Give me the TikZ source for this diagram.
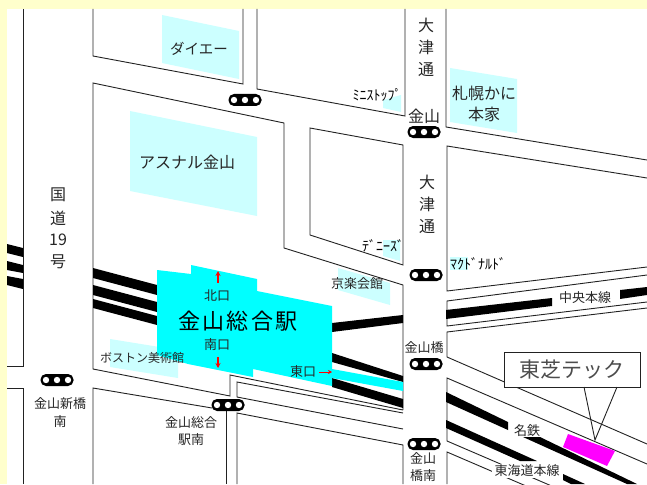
\documentclass[tikz,border=0pt]{standalone}
\usepackage{fontspec}
\setmainfont{Noto Sans CJK JP}
\definecolor{bgy}{HTML}{FFFFCC}
\definecolor{lc}{HTML}{CCFFFF}
\definecolor{lnk}{HTML}{222222}
\definecolor{stn}{HTML}{00FFFF}
\definecolor{bld}{HTML}{FF00FF}
\definecolor{arw}{HTML}{FF0000}
\usetikzlibrary{arrows.meta}
\tikzset{
  road/.style={draw=lnk,line width=0.9pt,line join=miter},
  shop/.style={fill=lc,draw=none},
  rail/.style={fill=black,draw=none},
  lab/.style={inner sep=0pt,font=\fontsize{13}{13}\selectfont,text=black!85},
  labbig/.style={inner sep=0pt,font=\fontsize{16}{16}\selectfont,text=black!85},
  labhalf/.style={inner sep=0pt,font=\fontsize{14}{14}\selectfont,text=black},
  pill/.style={fill=black,draw=none,rounded corners=5.5pt,minimum width=33pt,minimum height=12pt,inner sep=0pt},
  redarrow/.style={draw=arw,line width=1.3pt,-{Stealth[length=5pt,width=5pt]}}
}
\newcommand{\tlight}[3]{%
  \node[pill] (#1) at (#2,#3) {};
  \foreach \dx in {-11,0,11}{\fill[white] ([xshift=\dx pt]#1.center) circle (3.2pt);}
}
\begin{document}
\begin{tikzpicture}[x=1pt,y=-1pt]
\useasboundingbox (0,0) rectangle (647,484);
\fill[bgy] (0,0) rectangle (647,484);
\fill[white] (7,9) rectangle (647,484);
\begin{scope}
\clip (7,9) rectangle (647,484);
% shops
\fill[shop] (162,15) -- (239,31) -- (239,79) -- (162,63) -- cycle;
\fill[shop] (130,111) -- (257,137) -- (257,216) -- (130,191) -- cycle;
\fill[shop] (383,100) -- (401,95) -- (401,112) -- (383,108) -- cycle;
\fill[shop] (450,68) -- (517,79) -- (517,133) -- (450,122) -- cycle;
\fill[shop] (383,240) -- (400,240) -- (400,261) -- (383,256) -- cycle;
\fill[shop] (338,268) -- (390,283) -- (390,305) -- (338,290) -- cycle;
\fill[shop] (450,257) -- (468,257) -- (468,270) -- (450,270) -- cycle;
\fill[shop] (110,339) -- (178,350) -- (178,378) -- (110,367) -- cycle;
% roads
\draw[road] (23,9) -- (23,366) -- (7,366);
\draw[road] (7,388) -- (23,388) -- (23,484);
\draw[road] (93,9) -- (93,56) -- (243,84) -- (243,9);
\draw[road] (257,9) -- (257,89) -- (405,116) -- (405,9);
\draw[road] (403,410) -- (403,285) -- (284,248) -- (284,123) -- (93,83) -- (93,369) -- (230,396) -- (230,375) -- (403,410);
\draw[road] (403,413) -- (237,382) -- (237,397) -- (403,429);
\draw[road] (403,484) -- (403,445) -- (237,413) -- (237,484);
\draw[road] (226,411) -- (226,484);
\draw[road] (93,484) -- (93,388) -- (212,408);
\draw[road] (310,128) -- (403,145) -- (403,265) -- (310,235) -- cycle;
\draw[road] (446,9) -- (446,127) -- (647,160);
\draw[road] (647,178) -- (447,146) -- (447,291) -- (647,267);
\draw[road] (647,275) -- (447,301) -- (447,326) -- (647,302);
\draw[road] (647,308) -- (447,332) -- (447,357) -- (647,444);
\draw[road] (647,464) -- (447,378) -- (447,441) -- (647,527);
\draw[road] (447,484) -- (447,452) -- (647,538);
% rails
\fill[rail] (7,244) -- (23,248) -- (23,257) -- (7,253) -- cycle;
\fill[rail] (7,261) -- (23,265) -- (23,273) -- (7,270) -- cycle;
\fill[rail] (7,276) -- (23,279) -- (23,289) -- (7,285) -- cycle;
\fill[rail] (93,268) -- (157,285) -- (157,295) -- (93,278) -- cycle;
\fill[rail] (93,285) -- (157,302) -- (157,312) -- (93,295) -- cycle;
\fill[rail] (93,299) -- (157,316) -- (157,325) -- (93,308) -- cycle;
\fill[rail] (332,323) -- (403,315) -- (403,323) -- (332,332) -- cycle;
\fill[rail] (332,353) -- (403,376) -- (403,382) -- (332,362) -- cycle;
\fill[rail] (332,378) -- (403,399) -- (403,408) -- (332,387) -- cycle;
\fill[rail] (446,310) -- (552,298) -- (552,306) -- (446,319) -- cycle;
\fill[rail] (620,290) -- (647,287) -- (647,295) -- (620,299) -- cycle;
\fill[rail] (446,392) -- (508,422) -- (508,430) -- (446,402) -- cycle;
\fill[rail] (523,437) -- (540,437) -- (637,484) -- (627,484) -- cycle;
\fill[rail] (446,420) -- (537,461) -- (520,461) -- (446,428) -- cycle;
\fill[rail] (563,474) -- (585,484) -- (571,484) -- (563,480) -- cycle;
% station
\fill[stn] (332,369) -- (403,382) -- (403,391) -- (332,378) -- cycle;
\fill[stn] (157,270) -- (191,274) -- (191,265) -- (257,279) -- (257,291) -- (332,306) -- (332,386) -- (253,369) -- (253,377) -- (188,364) -- (157,355) -- cycle;
% building
\fill[bld] (568,434) -- (615,451) -- (607,466) -- (563,447) -- cycle;
\end{scope}
% arrows
\coordinate (na) at (218,283); \coordinate (nb) at (218,271);
\coordinate (sa) at (218,357); \coordinate (sb) at (218,368);
\coordinate (ea) at (319,372); \coordinate (eb) at (332,372);
\draw[redarrow] (na) -- (nb);
\draw[redarrow] (sa) -- (sb);
\draw[draw=arw,line width=0.8pt,-{Stealth[length=4pt,width=4pt]}] (ea) -- (eb);
% signals
\tlight{s1}{245}{100}
\tlight{s2}{424}{132}
\tlight{s3}{426}{275}
\tlight{s4}{426}{364}
\tlight{s5}{424}{444}
\tlight{s6}{57}{380}
\tlight{s7}{228}{405}
% callout
\coordinate (tailA) at (584,387);
\coordinate (tailB) at (595,440);
\coordinate (tailC) at (617,387);
\node[draw=lnk,fill=white,line width=0.9pt,minimum width=136pt,minimum height=35pt,inner sep=0pt,font=\fontsize{21}{21}\selectfont,text=black!70] (tec) at (572,369.5) {東芝テック};
\draw[road] (tailA) -- (tailB) -- (tailC);
% labels
\node[labbig,font=\fontsize{14.5}{14.5}\selectfont] (t1) at (199,49) {ダイエー};
\node[labbig] (t2) at (187,162) {アスナル金山};
\node[labbig] (t3) at (484,93) {札幌かに};
\node[labbig] (t4) at (484,114) {本家};
\node[labbig] (t5) at (424,116) {金山};
\node[labbig] (o1) at (426,25) {大};
\node[labbig] (o2) at (426,47) {津};
\node[labbig] (o3) at (426,70) {通};
\node[labbig] (o4) at (427,182) {大};
\node[labbig] (o5) at (427,204) {津};
\node[labbig] (o6) at (427,227) {通};
\node[labbig] (k1) at (58,195) {国};
\node[labbig] (k2) at (58,218) {道};
\node[labbig] (k3) at (58,240) {19};
\node[labbig] (k4) at (58,262) {号};
\node[labhalf] (h1) at (377,95) {ﾐﾆｽﾄｯﾌﾟ};
\node[labhalf] (h2) at (383,246) {ﾃﾞﾆｰｽﾞ};
\node[labhalf] (h3) at (478,264) {ﾏｸﾄﾞﾅﾙﾄﾞ};
\node[lab] (l1) at (357,284) {京楽会館};
\node[lab,font=\fontsize{12}{12}\selectfont] (l2) at (142,358) {ボストン美術館};
\node[lab] (l3) at (217,296) {北口};
\node[lab] (l4) at (217,345) {南口};
\node[lab] (l5) at (303,372) {東口};
\node[inner sep=0pt,font=\fontsize{22}{22}\selectfont,text=black] (st) at (238,321) {金\hspace{2.5pt}山\hspace{2.5pt}総\hspace{2.5pt}合\hspace{2.5pt}駅};
\node[lab] (l6) at (424,348) {金山橋};
\node[lab] (l7) at (60,404) {金山新橋};
\node[lab] (l8) at (60,422) {南};
\node[lab] (l9) at (191,423) {金山総合};
\node[lab] (l10) at (191,440) {駅南};
\node[lab] (l11) at (423,458) {金山};
\node[lab] (l12) at (423,476) {橋南};
\node[lab,fill=white,inner xsep=3pt,inner ysep=1pt] (l13) at (585,298) {中央本線};
\node[lab,fill=white,inner xsep=3pt,inner ysep=1pt] (l14) at (527,471) {東海道本線};
\node[lab,fill=white,inner xsep=1pt,inner ysep=0pt] (l15) at (527,431) {名鉄};
\end{tikzpicture}
\end{document}
